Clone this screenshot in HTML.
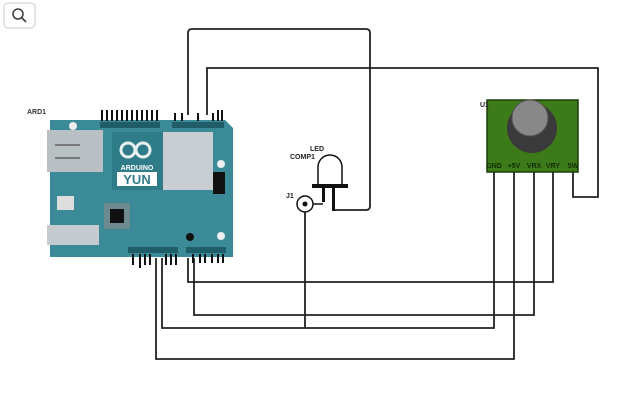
<!DOCTYPE html>
<html><head><meta charset="utf-8"><style>
body{margin:0;background:#fff;width:620px;height:411px;overflow:hidden;font-family:"Liberation Sans",sans-serif}
</style></head><body>
<svg width="620" height="411" viewBox="0 0 620 411" xmlns="http://www.w3.org/2000/svg" font-family="Liberation Sans, sans-serif">
<rect x="4" y="3" width="31" height="25" rx="4" fill="#fff" stroke="#ccc"/>
<circle cx="18" cy="14" r="5" fill="none" stroke="#444" stroke-width="1.6"/>
<line x1="21.5" y1="17.5" x2="26" y2="22" stroke="#444" stroke-width="1.8"/>
<g fill="none" stroke="#222" stroke-width="1.8">
<path d="M188 115 V33 Q188 29 192 29 H366 Q370 29 370 33 V206 Q370 210 366 210 H334"/>
<path d="M207 115 V68 H598 V197 H573 V172"/>
<path d="M188 258 V282 H553 V172"/>
<path d="M194 258 V315 H534 V172"/>
<path d="M162 258 V328 H494 V172"/>
<path d="M156 258 V359 H514 V172"/>
<path d="M305 204 V328"/>
</g>
<path d="M50 120 H225 L233 128 V257 H50 Z" fill="#3a8a98"/>
<rect x="47" y="130" width="56" height="42" fill="#b9c0c4"/>
<path d="M55 145 H80 M55 158 H80" stroke="#777" stroke-width="2"/>
<rect x="47" y="225" width="52" height="20" fill="#c5cbce"/>
<rect x="57" y="196" width="17" height="14" fill="#ddd"/>
<rect x="112" y="132" width="51" height="58" fill="#2f7c89"/>
<rect x="163" y="132" width="50" height="58" fill="#c8ced2"/>
<circle cx="128" cy="150" r="7" fill="none" stroke="#e8f0f0" stroke-width="3"/>
<circle cx="143" cy="150" r="7" fill="none" stroke="#e8f0f0" stroke-width="3"/>
<text x="137" y="170" font-size="7" font-weight="bold" fill="#fff" text-anchor="middle">ARDUINO</text>
<rect x="117" y="172" width="40" height="14" fill="#fff"/>
<text x="137" y="184" font-size="13" font-weight="bold" fill="#2f7c89" text-anchor="middle">YUN</text>
<rect x="213" y="172" width="12" height="22" fill="#111"/>
<rect x="104" y="203" width="26" height="26" fill="#6c8a90"/>
<rect x="110" y="209" width="14" height="14" fill="#111"/>
<circle cx="73" cy="126" r="4" fill="#eee"/>
<circle cx="221" cy="164" r="4" fill="#eee"/>
<circle cx="221" cy="236" r="4" fill="#eee"/>
<circle cx="190" cy="237" r="4" fill="#111"/>
<g fill="#1f5e69">
<rect x="100" y="122" width="60" height="6"/><rect x="172" y="122" width="52" height="6"/>
<rect x="128" y="247" width="50" height="6"/><rect x="186" y="247" width="40" height="6"/>
</g>
<g stroke="#111" stroke-width="2">
<path d="M102 110 V121 M107 110 V121 M112 110 V121 M117 110 V121 M122 110 V121 M127 110 V121 M132 110 V121 M137 110 V121 M142 110 V121 M147 110 V121 M152 110 V121 M157 110 V121"/>
<path d="M175 113 V121 M182 113 V121 M198 113 V121 M213 113 V121 M218 110 V121 M222 110 V121"/>
<path d="M133 254 V265 M140 254 V268 M145 254 V265 M150 254 V265 M166 254 V265 M171 254 V265 M176 254 V265 M193 254 V263 M200 254 V263 M205 254 V263 M212 254 V263 M218 254 V263 M223 254 V263"/>
</g>
<text x="27" y="114" font-size="7" font-weight="bold" fill="#333">ARD1</text>
<text x="310" y="151" font-size="7" font-weight="bold" fill="#222">LED</text>
<text x="290" y="159" font-size="7" font-weight="bold" fill="#222">COMP1</text>
<path d="M318 185 V167 A12 12 0 0 1 342 167 V185" fill="#fff" stroke="#111" stroke-width="1.5"/>
<rect x="312" y="184" width="36" height="4" fill="#111"/>
<rect x="322" y="188" width="3" height="14" fill="#111"/>
<rect x="332" y="188" width="3" height="23" fill="#111"/>
<path d="M305 204 H323" stroke="#111" stroke-width="1.5"/>
<circle cx="305" cy="204" r="8" fill="#fff" stroke="#111" stroke-width="1.5"/>
<circle cx="305" cy="204" r="2.5" fill="#111"/>
<text x="286" y="198" font-size="7" font-weight="bold" fill="#222">J1</text>
<rect x="487" y="100" width="91" height="72" fill="#3d7a1a" stroke="#1d3d0a" stroke-width="1.5"/>
<circle cx="532" cy="128" r="25" fill="#3a3a3a"/>
<circle cx="530" cy="118" r="18" fill="#888" stroke="#555"/>
<text x="480" y="107" font-size="7" font-weight="bold" fill="#222">U1</text>
<g font-size="7" font-weight="bold" fill="#132e06" text-anchor="middle">
<text x="494" y="168">GND</text><text x="514" y="168">+5V</text><text x="534" y="168">VRX</text><text x="553" y="168">VRY</text><text x="573" y="168">5W</text>
</g>
</svg>
</body></html>
